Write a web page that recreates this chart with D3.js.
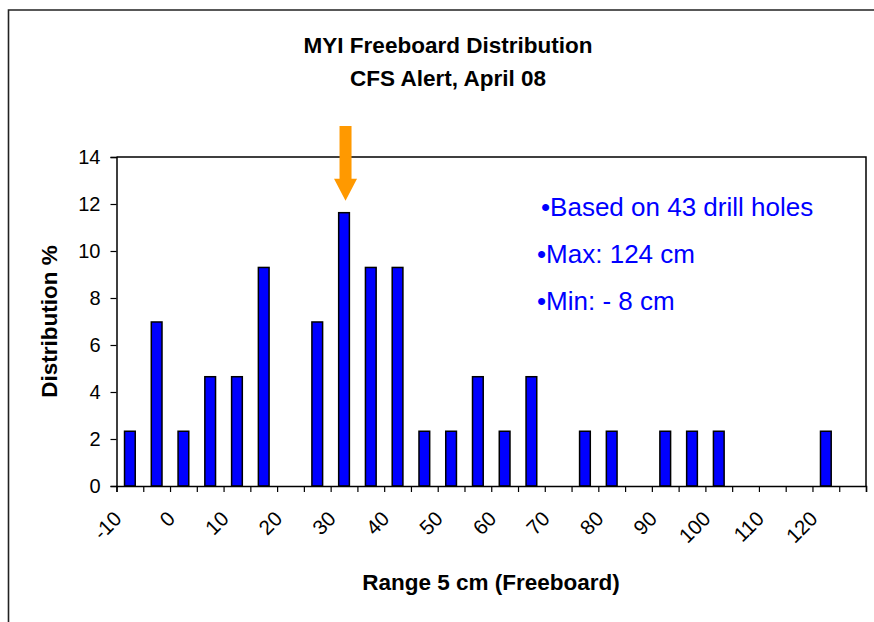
<!DOCTYPE html>
<html>
<head>
<meta charset="utf-8">
<script src="https://cdn.jsdelivr.net/npm/d3@7"></script>
<style>
  html, body { margin: 0; padding: 0; background: #fff; }
  svg { display: block; font-family: "Liberation Sans", Arial, sans-serif; }
</style>
</head>
<body>
<svg id="chart" width="874" height="622"></svg>
<script>
// Freeboard bins (cm, 5 cm wide) and share of drill holes in each bin (%)
const categories = [-10, -5, 0, 5, 10, 15, 20, 25, 30, 35, 40, 45, 50, 55,
                    60, 65, 70, 75, 80, 85, 90, 95, 100, 105, 110, 115, 120, 125];
const distribution = [2.33, 6.98, 2.33, 4.65, 4.65, 9.30, 0, 6.98, 11.63, 9.30,
                      9.30, 2.33, 2.33, 4.65, 2.33, 4.65, 0, 2.33, 2.33, 0,
                      2.33, 2.33, 2.33, 0, 0, 0, 2.33, 0];
// Bins that carry a label on the category axis
const labelledBins = [-10, 0, 10, 20, 30, 40, 50, 60, 70, 80, 90, 100, 110, 120];
const yTicks = [0, 2, 4, 6, 8, 10, 12, 14];
const titleLines = ["MYI Freeboard Distribution", "CFS Alert, April 08"];
const notes = ["\u2022Based on 43 drill holes", "\u2022Max: 124 cm", "\u2022Min: - 8 cm"];
const peakBin = 30;

const svg = d3.select("#chart");
const plot = { left: 116.5, top: 157, right: 866, bottom: 486 };

// outer chart frame (left and top edges)
svg.append("path")
  .attr("d", `M8.5,622 V10 H874`)
  .attr("fill", "none").attr("stroke", "#222").attr("stroke-width", 1.6);

const x = d3.scaleBand()
  .domain(categories)
  .range([plot.left, plot.right])
  .paddingInner(0.6)
  .paddingOuter(0.3);

const y = d3.scaleLinear().domain([0, 14]).range([plot.bottom, plot.top]);

// bin boundaries for the category tick marks
const edge = d3.scaleLinear().domain([0, categories.length]).range([plot.left, plot.right]);

// plot area border (top / right)
svg.append("path")
  .attr("d", `M${plot.left},${plot.top} H${plot.right} V${plot.bottom}`)
  .attr("fill", "none").attr("stroke", "#000").attr("stroke-width", 1.5);

// bars
svg.append("g").selectAll("rect")
  .data(categories.map((c, i) => ({ c, v: distribution[i] })).filter(d => d.v > 0))
  .join("rect")
  .attr("x", d => x(d.c))
  .attr("width", x.bandwidth())
  .attr("y", d => y(d.v))
  .attr("height", d => y(0) - y(d.v))
  .attr("fill", "#0000ff")
  .attr("stroke", "#000")
  .attr("stroke-width", 1.5);

// y axis
const yAxis = svg.append("g")
  .attr("transform", `translate(${plot.left},0)`)
  .call(d3.axisLeft(y).tickValues(yTicks).tickSize(6).tickPadding(10));
yAxis.select(".domain").attr("stroke-width", 1.5);
yAxis.selectAll(".tick line").attr("stroke-width", 1.2);
yAxis.selectAll(".tick text")
  .attr("font-size", 20).attr("fill", "#000")
  .attr("font-family", "Liberation Sans, Arial, sans-serif");

// x axis: line and tick marks at bin boundaries
const xAxis = svg.append("g")
  .attr("transform", `translate(0,${plot.bottom})`)
  .call(d3.axisBottom(edge).tickValues(d3.range(categories.length + 1)).tickSize(6).tickFormat(""));
xAxis.select(".domain").attr("stroke-width", 1.5);
xAxis.selectAll(".tick line").attr("stroke-width", 1.2);

// rotated category labels
svg.append("g").selectAll("text")
  .data(labelledBins)
  .join("text")
  .attr("transform", d => `translate(${x(d) + x.bandwidth() / 2 - 7},${plot.bottom + 34}) rotate(-45)`)
  .attr("text-anchor", "end")
  .attr("font-size", 20.5)
  .attr("fill", "#000")
  .text(d => String(d));

// titles
svg.append("g").selectAll("text")
  .data(titleLines)
  .join("text")
  .attr("x", 448)
  .attr("y", (d, i) => 53 + i * 33)
  .attr("text-anchor", "middle")
  .attr("font-size", 22.5)
  .attr("font-weight", "bold")
  .text(d => d);

svg.append("text")
  .attr("x", 491).attr("y", 590)
  .attr("text-anchor", "middle")
  .attr("font-size", 22.5).attr("font-weight", "bold")
  .text("Range 5 cm (Freeboard)");

svg.append("text")
  .attr("transform", `translate(57,${(plot.top + plot.bottom) / 2}) rotate(-90)`)
  .attr("text-anchor", "middle")
  .attr("font-size", 22.5).attr("font-weight", "bold")
  .text("Distribution %");

// notes
svg.append("g").selectAll("text")
  .data(notes)
  .join("text")
  .attr("x", (d, i) => i === 0 ? 541 : 537)
  .attr("y", (d, i) => 216 + i * 47)
  .attr("font-size", 26)
  .attr("fill", "#0000ff")
  .text(d => d);

// arrow pointing at the peak bin
const ax = x(peakBin) + x.bandwidth() / 2 + 1.5;
const tipY = y(distribution[categories.indexOf(peakBin)]) - 12;
const topY = plot.top - 31;
const headY = tipY - 22;
svg.append("path")
  .attr("d", `M${ax - 6},${topY} H${ax + 6} V${headY} H${ax + 11.5} L${ax},${tipY} L${ax - 11.5},${headY} H${ax - 6} Z`)
  .attr("fill", "#ff9900");
</script>
</body>
</html>
